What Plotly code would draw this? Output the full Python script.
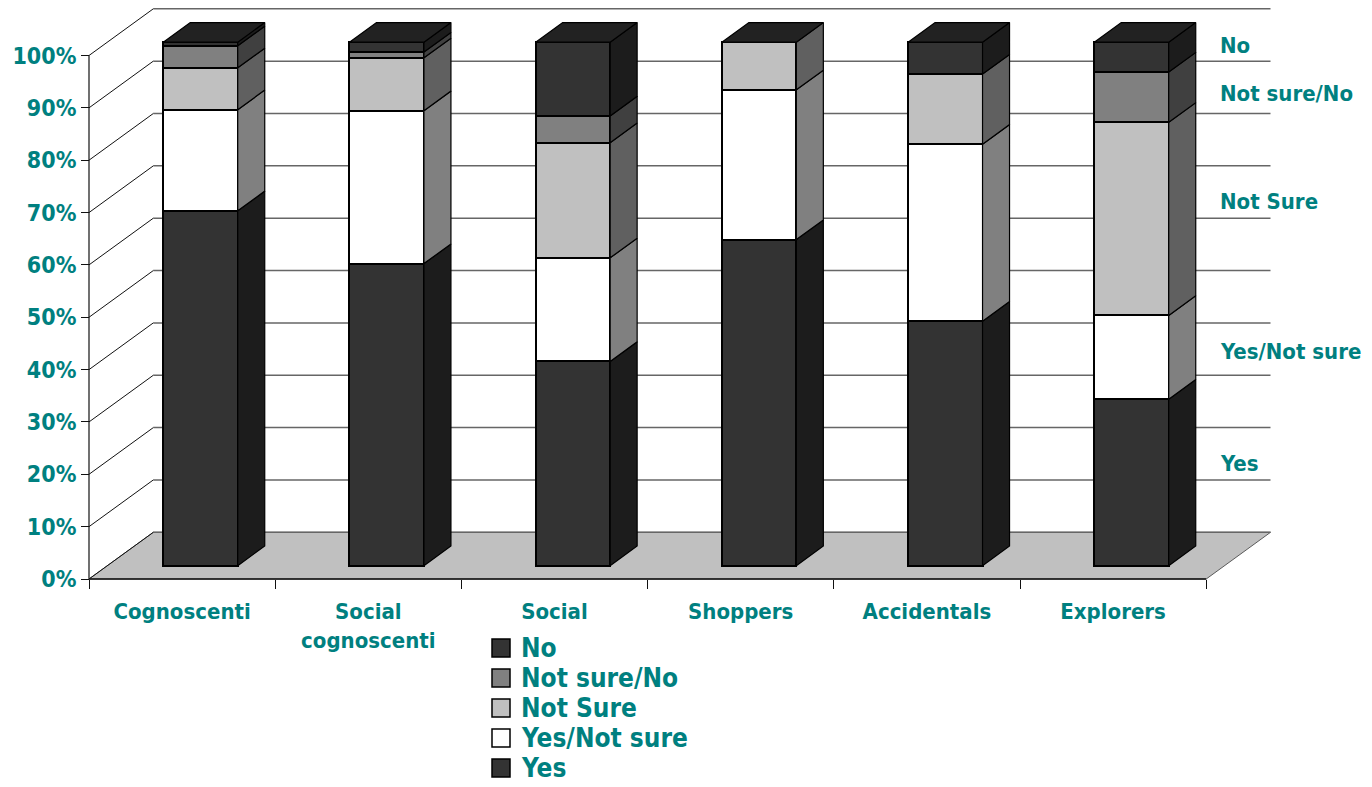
import plotly.graph_objects as go

# ---- data -------------------------------------------------------------
categories = ["Cognoscenti", "Social<br>cognoscenti", "Social", "Shoppers",
              "Accidentals", "Explorers"]
series_names = ["Yes", "Yes/Not sure", "Not Sure", "Not sure/No", "No"]
yes = [67.8, 57.7, 39.0, 62.3, 46.7, 31.8]
yes_not_sure = [19.3, 29.2, 19.8, 28.6, 33.8, 16.0]
not_sure = [8.0, 10.1, 22.0, 9.1, 13.4, 36.9]
not_sure_no = [4.2, 1.1, 5.1, 0.0, 0.0, 9.6]
no = [0.7, 1.9, 14.1, 0.0, 6.1, 5.7]
y_tick_values = [0, 10, 20, 30, 40, 50, 60, 70, 80, 90, 100]
y_tick_labels = [f"{v}%" for v in y_tick_values]

series_values = [yes, yes_not_sure, not_sure, not_sure_no, no]

# ---- styling ----------------------------------------------------------
front_colors = ["#333333", "#ffffff", "#c0c0c0", "#808080", "#333333"]
side_colors = ["#1c1c1c", "#808080", "#606060", "#404040", "#1c1c1c"]
top_color = "#222222"
text_color = "#008080"
font_family = "DejaVu Sans Condensed, DejaVu Sans"

W, H = 1372, 787
PX_PER_CAT = 186.2      # pixels per category slot
PX_PER_PCT = 5.235      # pixels per percentage point
ORIGIN_X, ORIGIN_Y = 89, 579

x_range = [-ORIGIN_X / PX_PER_CAT, (W - ORIGIN_X) / PX_PER_CAT]
y_range = [-(H - ORIGIN_Y) / PX_PER_PCT, ORIGIN_Y / PX_PER_PCT]

# oblique depth of the chart box (front -> back wall)
DX = 64.3 / PX_PER_CAT
DY = 46.7 / PX_PER_PCT
BAR_FRONT = 0.286       # depth fraction of the bar front faces
BAR_DEPTH = 0.42        # depth fraction covered by a bar
BAR_WIDTH = 0.4

n = len(categories)
fx, fy = BAR_FRONT * DX, BAR_FRONT * DY
bdx, bdy = BAR_DEPTH * DX, BAR_DEPTH * DY

fig = go.Figure()

# ---- walls and floor --------------------------------------------------
shapes = []
shapes.append(dict(type="path", layer="below",
                   path=f"M0,0 L{n},0 L{n + DX},{DY} L{DX},{DY} Z",
                   fillcolor="#c0c0c0", line=dict(color="#5a5a5a", width=1)))
for v in y_tick_values:
    shapes.append(dict(type="line", layer="below", x0=DX, y0=v + DY,
                       x1=n + DX, y1=v + DY,
                       line=dict(color="#666666", width=1.5)))
    shapes.append(dict(type="line", layer="below", x0=0, y0=v, x1=DX,
                       y1=v + DY, line=dict(color="#111111", width=1)))
shapes.append(dict(type="line", layer="below", x0=0, y0=0, x1=0, y1=100,
                   line=dict(color="#111111", width=1.2)))
shapes.append(dict(type="line", layer="below", x0=0, y0=0, x1=n, y1=0,
                   line=dict(color="#111111", width=1.5)))

# ---- stacked bars -----------------------------------------------------
centers = [i + 0.5 + fx for i in range(n)]
cum = [0.0] * n
side_traces = []
for name, vals, fc, sc in zip(series_names, series_values, front_colors,
                              side_colors):
    xs, ys, bases = [], [], []
    sx, sy = [], []
    for i, v in enumerate(vals):
        lo = cum[i] + fy
        hi = cum[i] + v + fy
        if v > 0:
            xs.append(centers[i])
            ys.append(v)
            bases.append(lo)
            xr = centers[i] + BAR_WIDTH / 2
            sx += [xr, xr + bdx, xr + bdx, xr, xr, None]
            sy += [lo, lo + bdy, hi + bdy, hi, lo, None]
        cum[i] += v
    fig.add_trace(go.Bar(x=xs, y=ys, base=bases, width=BAR_WIDTH, name=name,
                         marker=dict(color=fc,
                                     line=dict(color="#000000", width=2)),
                         showlegend=False, hoverinfo="skip"))
    side_traces.append(go.Scatter(x=sx, y=sy, mode="lines", fill="toself",
                                  fillcolor=sc,
                                  line=dict(color="#000000", width=1.2),
                                  showlegend=False, hoverinfo="skip"))
for tr in side_traces:
    fig.add_trace(tr)

# top faces of the stacks
tx, ty = [], []
for i in range(n):
    top = cum[i] + fy
    xl = centers[i] - BAR_WIDTH / 2
    xr = centers[i] + BAR_WIDTH / 2
    tx += [xl, xr, xr + bdx, xl + bdx, xl, None]
    ty += [top, top, top + bdy, top + bdy, top, None]
fig.add_trace(go.Scatter(x=tx, y=ty, mode="lines", fill="toself",
                         fillcolor=top_color,
                         line=dict(color="#000000", width=1.2),
                         showlegend=False, hoverinfo="skip"))

# ---- series labels at the right --------------------------------------
annotations = []
side_label_y = {"No": 102.0, "Not sure/No": 92.8, "Not Sure": 72.2,
                "Yes/Not sure": 43.5, "Yes": 22.0}
for name, yv in side_label_y.items():
    annotations.append(dict(x=(1218 - ORIGIN_X) / PX_PER_CAT, y=yv,
                            xref="x", yref="y", text=name, showarrow=False,
                            xanchor="left", yanchor="middle",
                            font=dict(family=font_family, size=22,
                                      color=text_color, weight="bold")))

# ---- legend -----------------------------------------------------------
legend_order = ["No", "Not sure/No", "Not Sure", "Yes/Not sure", "Yes"]
legend_x = (501 - ORIGIN_X) / PX_PER_CAT
legend_text_x = (520 - ORIGIN_X) / PX_PER_CAT
legend_top_px, legend_step_px = 648, 30
lx, ly, lc = [], [], []
for k, name in enumerate(legend_order):
    ypix = legend_top_px + k * legend_step_px
    yv = (ORIGIN_Y - ypix) / PX_PER_PCT
    lx.append(legend_x)
    ly.append(yv)
    lc.append(front_colors[series_names.index(name)])
    annotations.append(dict(x=legend_text_x, y=yv, xref="x", yref="y",
                            text=name, showarrow=False, xanchor="left",
                            yanchor="middle", borderpad=0,
                            font=dict(family=font_family, size=26,
                                      color=text_color, weight="bold")))
fig.add_trace(go.Scatter(x=lx, y=ly, mode="markers", cliponaxis=False,
                         marker=dict(symbol="square", size=18, color=lc,
                                     line=dict(color="#000000", width=1.5)),
                         showlegend=False, hoverinfo="skip"))

fig.update_layout(
    width=W, height=H,
    margin=dict(l=0, r=0, t=0, b=0),
    paper_bgcolor="white", plot_bgcolor="white",
    shapes=shapes, annotations=annotations,
    bargap=0, barmode="overlay",
    showlegend=False,
    xaxis=dict(range=x_range, domain=[0, 1], anchor="free",
               position=(H - ORIGIN_Y) / H,
               tickmode="array", tickvals=[i + 0.5 for i in range(n)],
               ticktext=categories, ticks="", showgrid=False,
               zeroline=False, showline=False, ticklabelstandoff=17,
               tickfont=dict(family=font_family, size=22, color=text_color,
                             weight="bold"),
               minor=dict(tickmode="array", tickvals=list(range(n + 1)),
                          ticks="outside", ticklen=9, tickcolor="#111111",
                          tickwidth=1, showgrid=False),
               fixedrange=True),
    yaxis=dict(range=y_range, domain=[0, 1], anchor="free",
               position=ORIGIN_X / W,
               tickmode="array", tickvals=y_tick_values,
               ticktext=y_tick_labels, ticks="outside", ticklen=8,
               tickcolor="#111111", tickwidth=1, showgrid=False,
               zeroline=False, showline=False,
               tickfont=dict(family=font_family, size=23, color=text_color,
                             weight="bold"),
               fixedrange=True),
)

fig.write_html("out.html")
